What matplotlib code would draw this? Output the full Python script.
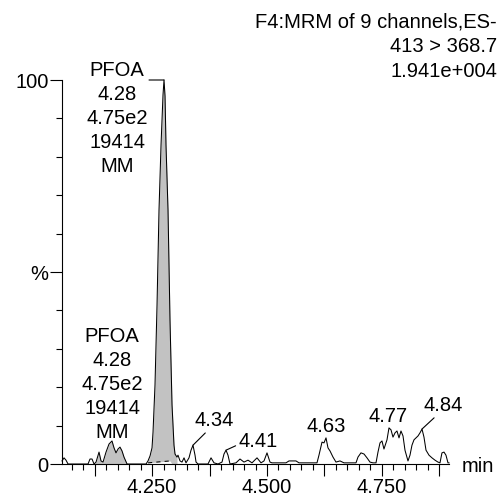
import numpy as np
import matplotlib
matplotlib.use("Agg")
import matplotlib.pyplot as plt
from matplotlib.ticker import MultipleLocator, FuncFormatter

plt.rcParams['font.family'] = ['Liberation Sans', 'DejaVu Sans']
plt.rcParams['font.size'] = 14.5

# chromatogram trace: retention time (min) vs relative intensity (%)
rt = [4.0543, 4.0587, 4.0630, 4.0674, 4.1109, 4.1152, 4.1196, 4.1239, 4.1283, 4.1348,
      4.1391, 4.1435, 4.1500, 4.1565, 4.1630, 4.1674, 4.1717, 4.1761, 4.1804, 4.1848,
      4.1891, 4.1957, 4.2370, 4.2413, 4.2457, 4.2500, 4.2522, 4.2565, 4.2609, 4.2652,
      4.2696, 4.2739, 4.2761, 4.2783, 4.2804, 4.2848, 4.2891, 4.2935, 4.2978, 4.3000,
      4.3043, 4.3065, 4.3109, 4.3152, 4.3196, 4.3239, 4.3304, 4.3348, 4.3391, 4.3435,
      4.3457, 4.3500, 4.3717, 4.3783, 4.3848, 4.3935, 4.4022, 4.4065, 4.4109, 4.4152,
      4.4196, 4.4326, 4.4413, 4.4500, 4.4587, 4.4674, 4.4783, 4.4870, 4.4935, 4.5000,
      4.5065, 4.5109, 4.5413, 4.5478, 4.5630, 4.5696, 4.6087, 4.6130, 4.6196, 4.6239,
      4.6283, 4.6326, 4.6370, 4.6435, 4.6500, 4.6587, 4.6674, 4.6935, 4.6978, 4.7043,
      4.7109, 4.7174, 4.7239, 4.7304, 4.7370, 4.7413, 4.7457, 4.7500, 4.7543, 4.7609,
      4.7652, 4.7696, 4.7739, 4.7783, 4.7826, 4.7870, 4.7913, 4.7957, 4.8000, 4.8065,
      4.8109, 4.8152, 4.8196, 4.8239, 4.8283, 4.8326, 4.8370, 4.8413, 4.8457, 4.8522,
      4.8587, 4.8652, 4.8717, 4.8761, 4.8804, 4.8848, 4.8891, 4.8935, 4.8957]
pct = [0.8, 1.6, 1.0, 0.0, 0.0, 1.3, 1.3, 0.0, 0.5, 3.1,
       0.8, 0.5, 3.1, 5.2, 6.0, 4.2, 2.9, 3.9, 4.4, 3.4,
       1.8, 0.0, 0.0, 0.8, 2.1, 4.2, 8.3, 20.6, 41.4, 66.1,
       83.1, 96.1, 100.0, 95.8, 83.1, 66.1, 37.5, 15.4, 4.9, 2.6,
       1.8, 2.3, 0.8, 0.5, 1.6, 0.3, 1.6, 3.6, 4.9, 2.3,
       0.5, 0.0, 0.0, 1.6, 0.3, 0.0, 0.5, 2.6, 3.6, 2.3,
       0.0, 0.3, 1.3, 0.5, 1.0, 0.3, 1.6, 0.3, 0.8, 2.9,
       0.5, 0.3, 0.3, 0.8, 0.8, 0.3, 0.3, 2.3, 5.7, 5.5,
       6.8, 4.2, 3.4, 1.8, 0.5, 0.8, 0.3, 0.3, 1.8, 2.9,
       2.6, 1.6, 0.5, 0.3, 0.3, 3.1, 5.5, 6.0, 3.9, 6.3,
       9.4, 8.9, 7.0, 8.1, 8.6, 6.8, 8.6, 7.3, 3.6, 0.8,
       2.3, 4.9, 6.3, 6.8, 7.3, 8.1, 9.1, 7.0, 3.6, 2.3,
       1.6, 1.0, 0.5, 0.3, 2.9, 3.1, 2.3, 0.3, 0.3]

# integrated regions (start, end) and the drawn integration baseline
fill_windows = [(4.1239, 4.1957), (4.2413, 4.3043)]
base_rt = [4.2413, 4.2891]
base_pct = [0.3, 0.8]

header = ["F4:MRM of 9 channels,ES-", "413 > 368.7", "1.941e+004"]
peak_info = ["PFOA", "4.28", "4.75e2", "19414", "MM"]
peak_labels = ["4.34", "4.41", "4.63", "4.77", "4.84"]

# label placement (pixels): offset of text from apex, leader attach point
label_offsets = [(21, 19), (32, 3), (0, 6), (-1, 6), (21, 18)]
label_leader = [(0.35, 0.0), (0.0, 0.35), None, None, (0.35, 0.0)]

W = 498.0
fig = plt.figure(figsize=(4.98, 4.98), dpi=100)
ax = fig.add_axes([62 / W, 34 / W, 387 / W, 384 / W])

t = np.array(rt)
y = np.array(pct)

for lo, hi in fill_windows:
    m = (t >= lo - 1e-9) & (t <= hi + 1e-9)
    low = np.where((t[m] >= base_rt[0]) & (t[m] <= base_rt[1]),
                   np.interp(t[m], base_rt, base_pct), 0)
    ax.fill_between(t[m], low, y[m], color='#c2c2c2', lw=0)

ax.plot(t, y, color='black', lw=0.75, clip_on=False)
ax.plot(base_rt, base_pct, color='black', lw=0.75, dashes=(4, 4))

ax.set_xlim(rt[0], rt[-1])
ax.set_ylim(0, 100)
for s in ['top', 'right']:
    ax.spines[s].set_visible(False)
for s in ['left', 'bottom']:
    ax.spines[s].set_linewidth(0.8)

ax.set_yticks([0, 50, 100])
ax.set_yticklabels(['0', '%', '100'])
ax.yaxis.set_minor_locator(MultipleLocator(10))
ax.xaxis.set_major_locator(MultipleLocator(0.125))
ax.xaxis.set_minor_locator(MultipleLocator(0.025))


def xfmt(v, pos):
    if abs(v / 0.25 - round(v / 0.25)) < 1e-6:
        return "%.3f" % v
    return ""


ax.xaxis.set_major_formatter(FuncFormatter(xfmt))
ax.tick_params(axis='both', which='major', length=8.6, width=0.8)
ax.tick_params(axis='both', which='minor', length=4.3, width=0.8)
ax.tick_params(axis='x', which='major', pad=1.6)
ax.tick_params(axis='y', which='major', pad=1)

# main peak apex and its label block
ia = int(np.argmax(y))
ax.annotate('', xy=(t[ia], y[ia]), xytext=(-15, 0), textcoords='offset pixels',
            arrowprops=dict(arrowstyle='-', lw=0.8, shrinkA=0, shrinkB=0),
            annotation_clip=False)
for k, line in enumerate(peak_info):
    fig.text(117 / W, 1 - (76 + 24 * k) / W, line, ha='center', va='baseline')
    fig.text(112 / W, 1 - (342 + 24 * k) / W, line, ha='center', va='baseline')

# labelled minor peaks
for lab, (dx, dy), rel in zip(peak_labels, label_offsets, label_leader):
    c = float(lab)
    w = (t > c - 0.01) & (t < c + 0.01)
    j = np.where(w)[0][np.argmax(y[w])]
    props = None
    if rel is not None:
        props = dict(arrowstyle='-', lw=0.8, shrinkA=0, shrinkB=0, relpos=rel)
    ax.annotate(lab, xy=(t[j], y[j]), xytext=(dx, dy), textcoords='offset pixels',
                ha='center', va='baseline', arrowprops=props, annotation_clip=False)

for k, line in enumerate(header):
    fig.text(497 / W, 1 - (27 + 25 * k) / W, line, ha='right', va='baseline')

fig.text(462 / W, 1 - 472 / W, 'min', ha='left', va='baseline')

fig.savefig('out.png', dpi=100)
